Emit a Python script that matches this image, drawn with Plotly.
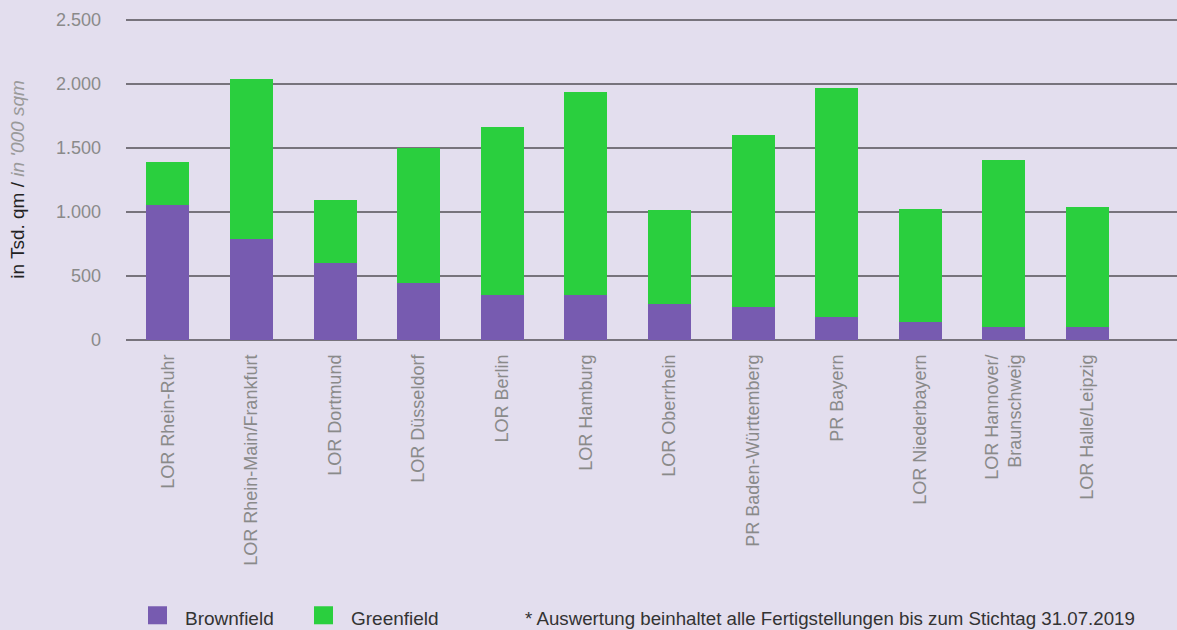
import plotly.graph_objects as go

categories = [
    "LOR Rhein-Ruhr", "LOR Rhein-Main/Frankfurt", "LOR Dortmund", "LOR Düsseldorf",
    "LOR Berlin", "LOR Hamburg", "LOR Oberrhein", "PR Baden-Württemberg",
    "PR Bayern", "LOR Niederbayern", "LOR Hannover/<br>Braunschweig", "LOR Halle/Leipzig",
]
brownfield = [1050, 790, 600, 445, 352, 352, 281, 258, 180, 141, 102, 102]
totals = [1390, 2040, 1095, 1495, 1665, 1937, 1016, 1602, 1969, 1023, 1406, 1039]
greenfield = [t - b for t, b in zip(totals, brownfield)]
y_ticks = [0, 500, 1000, 1500, 2000, 2500]
y_ticktext = ["0", "500", "1.000", "1.500", "2.000", "2.500"]

BG = "#E3DEEE"
PURPLE = "#775BB0"
GREEN = "#2ACF3E"
GRID = "#77737c"
FONT = "Liberation Sans, Arial, sans-serif"

fig = go.Figure()
fig.add_trace(go.Bar(x=categories, y=brownfield, name="Brownfield",
                     marker=dict(color=PURPLE, line=dict(width=0)), showlegend=False))
fig.add_trace(go.Bar(x=categories, y=greenfield, name="Greenfield",
                     marker=dict(color=GREEN, line=dict(width=0)), showlegend=False))

# pixel geometry: 0 -> y=340, 2500 -> y=20
PX_PER_UNIT = 320 / 2500
Y_MAX = 2560
L, R, B = 126, 0, 290
W, H = 1177, 630
T = (H - B) - Y_MAX * PX_PER_UNIT
pw = W - L - R
ph = H - T - B


def px_x(x):
    return (x - L) / pw


def px_y(y):
    return (H - B - y) / ph


fig.update_layout(
    width=W, height=H,
    barmode="stack", bargap=0.485,
    paper_bgcolor=BG, plot_bgcolor=BG,
    margin=dict(l=L, r=R, t=T, b=B),
    font=dict(family=FONT, color="#888888"),
    xaxis=dict(
        type="category", range=[-0.5, 12.07], showgrid=False,
        tickangle=-90, tickfont=dict(size=18, color="#8a8a8a"),
        ticks="", showline=False, ticklabelstandoff=10,
    ),
    yaxis=dict(
        range=[0, Y_MAX], tickvals=y_ticks, ticktext=y_ticktext,
        showgrid=True, gridcolor=GRID, gridwidth=1.5,
        zeroline=True, zerolinecolor=GRID, zerolinewidth=1.5,
        tickfont=dict(size=18, color="#8a8a8a"), ticks="", ticklabelstandoff=24,
    ),
)

# Y axis title (rich text)
fig.add_annotation(
    text="in Tsd. qm / <i><span style='color:#9a9a9a'>in '000 sqm</span></i>",
    xref="paper", yref="paper", x=px_x(18), y=px_y(180),
    textangle=-90, showarrow=False, xanchor="center", yanchor="middle",
    font=dict(size=19, color="#222222", family=FONT),
)

# Manual legend
for x0, color, label in [(148, PURPLE, "Brownfield"), (314, GREEN, "Greenfield")]:
    fig.add_shape(type="rect", xref="paper", yref="paper",
                  x0=px_x(x0), x1=px_x(x0 + 19), y0=px_y(624), y1=px_y(606),
                  fillcolor=color, line=dict(width=0))
    fig.add_annotation(text=label, xref="paper", yref="paper",
                       x=px_x(x0 + 35), y=px_y(618), xanchor="left", yanchor="middle",
                       showarrow=False, font=dict(size=19, color="#333333", family=FONT))

fig.add_annotation(text="* Auswertung beinhaltet alle Fertigstellungen bis zum Stichtag 31.07.2019",
                   xref="paper", yref="paper", x=px_x(523), y=px_y(618),
                   xanchor="left", yanchor="middle", showarrow=False,
                   font=dict(size=18.7, color="#333333", family=FONT))

fig.write_html("out.html", config={"displayModeBar": False},
               post_script="document.body.style.margin='0';document.body.style.padding='0';")
